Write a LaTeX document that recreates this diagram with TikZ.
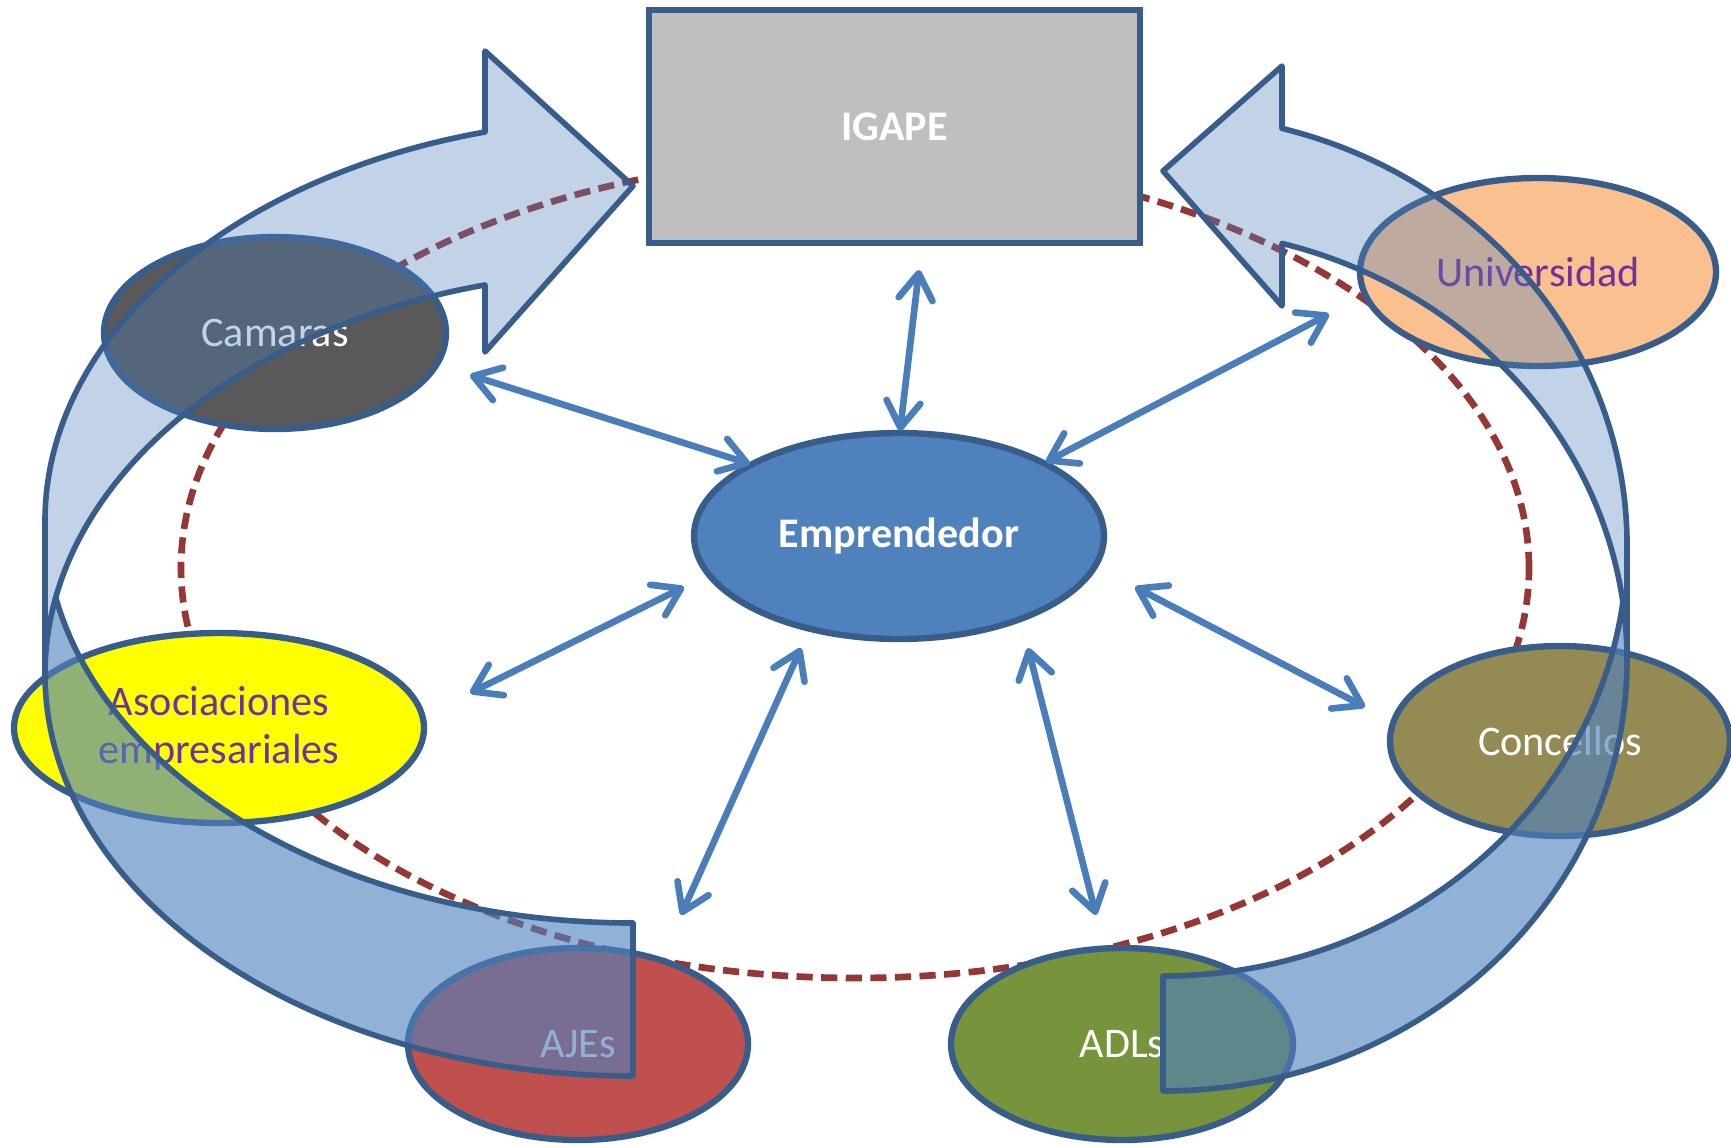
\documentclass[tikz,border=0pt]{standalone}
\usepackage{fontspec}
\setmainfont{Carlito}
\usepackage{tikz}
\usetikzlibrary{shapes.geometric,arrows.meta}

\definecolor{boxgray}{HTML}{BFBFBF}
\definecolor{edgeblue}{HTML}{385D8A}
\definecolor{empblue}{HTML}{4F81BD}
\definecolor{linkblue}{HTML}{4A7EBB}
\definecolor{ringred}{HTML}{953735}
\definecolor{camgray}{HTML}{595959}
\definecolor{unipeach}{HTML}{FAC090}
\definecolor{asoyellow}{HTML}{FFFF00}
\definecolor{conolive}{HTML}{948A54}
\definecolor{ajered}{HTML}{C0504D}
\definecolor{adlgreen}{HTML}{77933C}
\definecolor{labelpurple}{HTML}{7030A0}

\tikzset{
    actor/.style={ellipse, draw=edgeblue, line width=1.8pt, inner sep=0pt, align=center,
        font=\fontsize{12}{13.7}\selectfont},
    link/.style={<->, draw=linkblue, line width=1.9pt},
    band/.style={draw=edgeblue, line width=1.6pt, line join=round},
    leftring/.style={x radius=58.8mm, y radius=40.2mm},
    rightring/.style={x radius=46.4mm, y radius=43.1mm},
}

\begin{document}
\begin{tikzpicture}[x=1mm, y=-1mm, >={Straight Barb[length=2.6mm,width=3.4mm,round]}]

    \useasboundingbox (0,0) rectangle (173.1,114.4);

    \draw[ringred, line width=1.9pt, dash pattern=on 4.6pt off 2.4pt] (85.5,56.8) ellipse [x radius=67.4mm, y radius=41mm];

    \node[draw=edgeblue, fill=boxgray, line width=1.8pt, minimum width=49.1mm, minimum height=23.3mm,
        text=white, font=\fontsize{12}{14}\selectfont\bfseries] (igape) at (89.45,12.65) {IGAPE};

    \node[actor, fill=empblue, text=white, font=\fontsize{12}{14}\selectfont\bfseries,
        minimum width=41mm, minimum height=20.6mm] (emp) at (89.9,53.6) {Emprendedor};

    \node[actor, fill=camgray, text=white, minimum width=34.2mm, minimum height=19.2mm] (cam) at (27.5,33.3) {Camaras};
    \node[actor, fill=unipeach, text=labelpurple, minimum width=35.6mm, minimum height=18.8mm] (uni) at (153.8,27.2) {Universidad};
    \node[actor, fill=asoyellow, text=labelpurple, minimum width=41mm, minimum height=19mm] (aso) at (21.9,72.8) {Asociaciones\\empresariales};
    \node[actor, fill=conolive, text=white, minimum width=34mm, minimum height=19mm] (con) at (156.0,74.1) {Concellos};
    \node[actor, fill=ajered, text=white, minimum width=34mm, minimum height=19.2mm] (aje) at (57.8,104.4) {AJEs};
    \node[actor, fill=adlgreen, text=white, minimum width=34.2mm, minimum height=19.2mm] (adl) at (112.2,104.4) {ADLs};

    \coordinate (C0) at (91.9,27.0);
    \coordinate (C1) at (47.0,37.5);
    \coordinate (C2) at (132.9,31.4);
    \coordinate (C3) at (47.0,69.3);
    \coordinate (C4) at (136.5,70.7);
    \coordinate (C5) at (68.1,91.5);
    \coordinate (C6) at (109.6,91.5);

    \coordinate (E0) at (90.0,43.1);
    \coordinate (E1) at (75.0,46.4);
    \coordinate (E2) at (104.6,46.2);
    \coordinate (E3) at (68.4,58.7);
    \coordinate (E4) at (113.5,58.7);
    \coordinate (E5) at (80.1,64.8);
    \coordinate (E6) at (102.8,64.8);

    \draw[link] (C0) -- (E0);
    \draw[link] (C1) -- (E1);
    \draw[link] (C2) -- (E2);
    \draw[link] (C3) -- (E3);
    \draw[link] (C4) -- (E4);
    \draw[link] (C5) -- (E5);
    \draw[link] (C6) -- (E6);

    \fill[empblue, fill opacity=0.35] (4.5,67.4) arc[leftring, start angle=180, end angle=104.58]
        -- (48.5,35.2) -- (63.3,18.6) -- (48.5,5.1) -- (48.5,13.2)
        arc[leftring, start angle=104.58, end angle=180] -- cycle;
    \fill[empblue, fill opacity=0.62] (63.3,92.3) arc[leftring, start angle=270, end angle=190.97]
        arc[leftring, start angle=169.03, end angle=270] -- cycle;
    \draw[band] (4.5,67.4) arc[leftring, start angle=180, end angle=104.58]
        -- (48.5,35.2) -- (63.3,18.6) -- (48.5,5.1) -- (48.5,13.2)
        arc[leftring, start angle=104.58, end angle=180] -- (4.5,67.4)
        arc[leftring, start angle=180, end angle=270] -- (63.3,92.3)
        arc[leftring, start angle=270, end angle=190.97];

    \fill[empblue, fill opacity=0.35] (162.7,66.0) arc[rightring, start angle=0, end angle=75.14]
        -- (128.2,30.6) -- (116.3,17.1) -- (128.2,6.6) -- (128.2,12.84)
        arc[rightring, start angle=75.14, end angle=0] -- cycle;
    \fill[empblue, fill opacity=0.62] (116.3,97.6) arc[rightring, start angle=-90, end angle=-7.67]
        arc[rightring, start angle=7.67, end angle=-90] -- cycle;
    \draw[band] (162.7,66.0) arc[rightring, start angle=0, end angle=75.14]
        -- (128.2,30.6) -- (116.3,17.1) -- (128.2,6.6) -- (128.2,12.84)
        arc[rightring, start angle=75.14, end angle=0] -- (162.7,66.0)
        arc[rightring, start angle=0, end angle=-90] -- (116.3,97.6)
        arc[rightring, start angle=-90, end angle=-7.67];

\end{tikzpicture}
\end{document}
